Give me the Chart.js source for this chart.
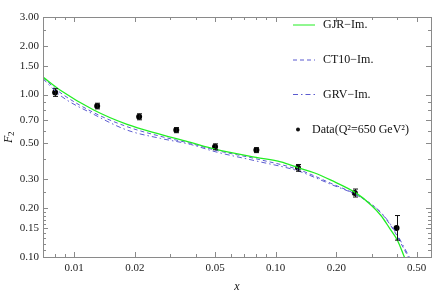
<!DOCTYPE html>
<html>
<head>
<meta charset="utf-8">
<script src="https://cdn.jsdelivr.net/npm/chart.js@4"></script>
<style>
  html, body { margin: 0; padding: 0; background: #fff; }
  #wrap { width: 436px; height: 294px; }
</style>
</head>
<body>
<div id="wrap"><canvas id="f2Chart"></canvas></div>
<script>
// ---- data ----
const gjrX = [0.007, 0.0085, 0.0125, 0.0183, 0.0268, 0.0378, 0.05, 0.08, 0.106, 0.13, 0.155, 0.188, 0.25, 0.3, 0.333, 0.368, 0.403, 0.435, 0.46];
const gjrY = [1.28, 1.067, 0.803, 0.655, 0.569, 0.507, 0.461, 0.41, 0.385, 0.354, 0.33, 0.297, 0.248, 0.207, 0.18, 0.15, 0.126, 0.10, 0.085];

const ct10X = [0.007, 0.0085, 0.0125, 0.0183, 0.0268, 0.0378, 0.05, 0.08, 0.13, 0.155, 0.188, 0.25, 0.3, 0.333, 0.37, 0.4, 0.43, 0.455, 0.48];
const ct10Y = [1.27, 1.03, 0.774, 0.634, 0.553, 0.50, 0.455, 0.402, 0.345, 0.316, 0.284, 0.243, 0.21, 0.187, 0.158, 0.135, 0.114, 0.10, 0.088];

const grvX = [0.007, 0.0085, 0.0125, 0.0183, 0.0268, 0.0378, 0.05, 0.08, 0.13, 0.155, 0.188, 0.25, 0.3, 0.333, 0.37, 0.4, 0.43, 0.46, 0.49];
const grvY = [1.25, 0.99, 0.755, 0.604, 0.537, 0.493, 0.445, 0.39, 0.338, 0.31, 0.28, 0.242, 0.21, 0.188, 0.16, 0.138, 0.117, 0.10, 0.085];

const dataX = [0.00804, 0.0130, 0.0210, 0.0321, 0.0500, 0.0802, 0.129, 0.247, 0.398];
const dataY = [1.03, 0.85, 0.73, 0.604, 0.477, 0.455, 0.354, 0.248, 0.151];
const errLo = [0.056, 0.034, 0.031, 0.022, 0.020, 0.016, 0.017, 0.014, 0.024];
const errHi = [0.056, 0.034, 0.031, 0.022, 0.020, 0.016, 0.017, 0.014, 0.029];

const xTicks = [0.01, 0.02, 0.05, 0.1, 0.2, 0.5];
const yTicks = [0.1, 0.15, 0.2, 0.3, 0.5, 0.7, 1.0, 1.5, 2.0, 3.0];
const xMinor = [0.008, 0.009, 0.03, 0.04, 0.06, 0.07, 0.08, 0.09, 0.3, 0.4];
const yMinor = [0.11, 0.12, 0.13, 0.14, 0.16, 0.17, 0.18, 0.19, 0.25, 0.4, 0.6, 0.8, 0.9, 2.5];

const legendLabels = ['GJR\u2212Im.', 'CT10\u2212Im.', 'GRV\u2212Im.', 'Data(Q\u00b2=650 GeV\u00b2)'];

const GREEN = '#22ee22';
const BLUE = '#5b5bd0';
const FRAME = '#8a8a8a';
const SERIF = '"Liberation Serif", "Times New Roman", serif';

function pts(xs, ys) {
  return xs.map((x, i) => ({ x: x, y: ys[i] }));
}

// frame, inward ticks, error bars, legend and axis titles
const decorPlugin = {
  id: 'decor',
  afterDatasetsDraw(chart) {
    const ctx = chart.ctx;
    const xs = chart.scales.x, ys = chart.scales.y;

    // error bars
    ctx.save();
    ctx.strokeStyle = '#111';
    ctx.lineWidth = 1;
    dataX.forEach((x, i) => {
      const px = Math.round(xs.getPixelForValue(x)) + 0.5;
      const top = ys.getPixelForValue(dataY[i] + errHi[i]);
      const bot = ys.getPixelForValue(dataY[i] - errLo[i]);
      ctx.beginPath();
      ctx.moveTo(px, top); ctx.lineTo(px, bot);
      ctx.moveTo(px - 2.5, top); ctx.lineTo(px + 2.5, top);
      ctx.moveTo(px - 2.5, bot); ctx.lineTo(px + 2.5, bot);
      ctx.stroke();
    });
    ctx.restore();
  },
  afterDraw(chart) {
    const ctx = chart.ctx;
    const a = chart.chartArea;
    const xs = chart.scales.x, ys = chart.scales.y;

    ctx.save();
    ctx.strokeStyle = FRAME;
    ctx.lineWidth = 1;
    ctx.strokeRect(Math.round(a.left) + 0.5, Math.round(a.top) + 0.5,
      Math.round(a.right - a.left), Math.round(a.bottom - a.top));

    ctx.beginPath();
    const tickX = (v, len) => {
      const p = Math.round(xs.getPixelForValue(v)) + 0.5;
      ctx.moveTo(p, a.bottom); ctx.lineTo(p, a.bottom - len);
      ctx.moveTo(p, a.top); ctx.lineTo(p, a.top + len);
    };
    const tickY = (v, len) => {
      const p = Math.round(ys.getPixelForValue(v)) + 0.5;
      ctx.moveTo(a.left, p); ctx.lineTo(a.left + len, p);
      ctx.moveTo(a.right, p); ctx.lineTo(a.right - len, p);
    };
    xTicks.forEach(v => tickX(v, 5));
    xMinor.forEach(v => tickX(v, 3));
    yTicks.forEach(v => tickY(v, 5));
    yMinor.forEach(v => tickY(v, 3));
    ctx.stroke();

    // legend
    ctx.font = '12px ' + SERIF;
    ctx.fillStyle = '#111';
    ctx.textBaseline = 'middle';
    ctx.textAlign = 'left';
    const rows = [25, 60, 94.5, 129.5];
    ctx.lineWidth = 1;
    ctx.strokeStyle = GREEN;
    ctx.beginPath(); ctx.moveTo(293, rows[0]); ctx.lineTo(315, rows[0]); ctx.stroke();
    ctx.strokeStyle = BLUE;
    ctx.setLineDash([4, 3]);
    ctx.beginPath(); ctx.moveTo(293, rows[1]); ctx.lineTo(315, rows[1]); ctx.stroke();
    ctx.setLineDash([5, 3, 1.5, 3]);
    ctx.beginPath(); ctx.moveTo(293, rows[2]); ctx.lineTo(315, rows[2]); ctx.stroke();
    ctx.setLineDash([]);
    ctx.fillText(legendLabels[0], 323, rows[0]);
    ctx.fillText(legendLabels[1], 323, rows[1]);
    ctx.fillText(legendLabels[2], 323, rows[2]);
    ctx.beginPath(); ctx.arc(298, rows[3], 2, 0, Math.PI * 2); ctx.fill();
    ctx.fillText(legendLabels[3], 312, rows[3]);

    // axis titles
    ctx.font = 'italic 12px ' + SERIF;
    ctx.textAlign = 'center';
    ctx.fillText('x', (a.left + a.right) / 2, 287);
    ctx.translate(9, (a.top + a.bottom) / 2);
    ctx.rotate(-Math.PI / 2);
    ctx.textAlign = 'left';
    ctx.fillText('F', -6, 0);
    ctx.font = '9px ' + SERIF;
    ctx.fillText('2', 1, 3);
    ctx.restore();
  }
};

const ctx = document.getElementById('f2Chart').getContext('2d');
const f2Chart = new Chart(ctx, {
  type: 'scatter',
  data: {
    datasets: [{
      label: legendLabels[0],
      data: pts(gjrX, gjrY),
      showLine: true,
      borderColor: GREEN,
      borderWidth: 1.3,
      pointRadius: 0,
      cubicInterpolationMode: 'monotone'
    },
    {
      label: legendLabels[1],
      data: pts(ct10X, ct10Y),
      showLine: true,
      borderColor: BLUE,
      borderWidth: 1,
      borderDash: [4, 3],
      pointRadius: 0,
      cubicInterpolationMode: 'monotone'
    },
    {
      label: legendLabels[2],
      data: pts(grvX, grvY),
      showLine: true,
      borderColor: BLUE,
      borderWidth: 1,
      borderDash: [5, 3, 1.5, 3],
      pointRadius: 0,
      cubicInterpolationMode: 'monotone'
    },
    {
      label: legendLabels[3],
      data: pts(dataX, dataY),
      backgroundColor: '#000',
      borderColor: '#000',
      pointRadius: 3,
      borderWidth: 0
    }]
  },
  options: {
    responsive: true,
    maintainAspectRatio: false,
    animation: false,
    layout: { padding: { top: 17, right: 5, left: 0, bottom: 0 } },
    plugins: {
      legend: { display: false },
      tooltip: { enabled: false }
    },
    scales: {
      x: {
        type: 'logarithmic',
        min: 0.007,
        max: 0.59,
        afterBuildTicks: s => { s.ticks = xTicks.map(v => ({ value: v })); },
        afterFit: s => { s.height = 37; },
        grid: { display: false, drawTicks: false },
        border: { display: false },
        ticks: {
          autoSkip: false,
          maxRotation: 0,
          padding: 5,
          color: '#222',
          font: { family: SERIF, size: 11 },
          callback: v => Number(v).toFixed(2)
        }
      },
      y: {
        type: 'logarithmic',
        min: 0.1,
        max: 3.0,
        afterBuildTicks: s => { s.ticks = yTicks.map(v => ({ value: v })); },
        afterFit: s => { s.width = 43; },
        grid: { display: false, drawTicks: false },
        border: { display: false },
        ticks: {
          autoSkip: false,
          padding: 4,
          color: '#222',
          font: { family: SERIF, size: 11 },
          callback: v => Number(v).toFixed(2)
        }
      }
    }
  },
  plugins: [decorPlugin]
});
</script>
</body>
</html>
